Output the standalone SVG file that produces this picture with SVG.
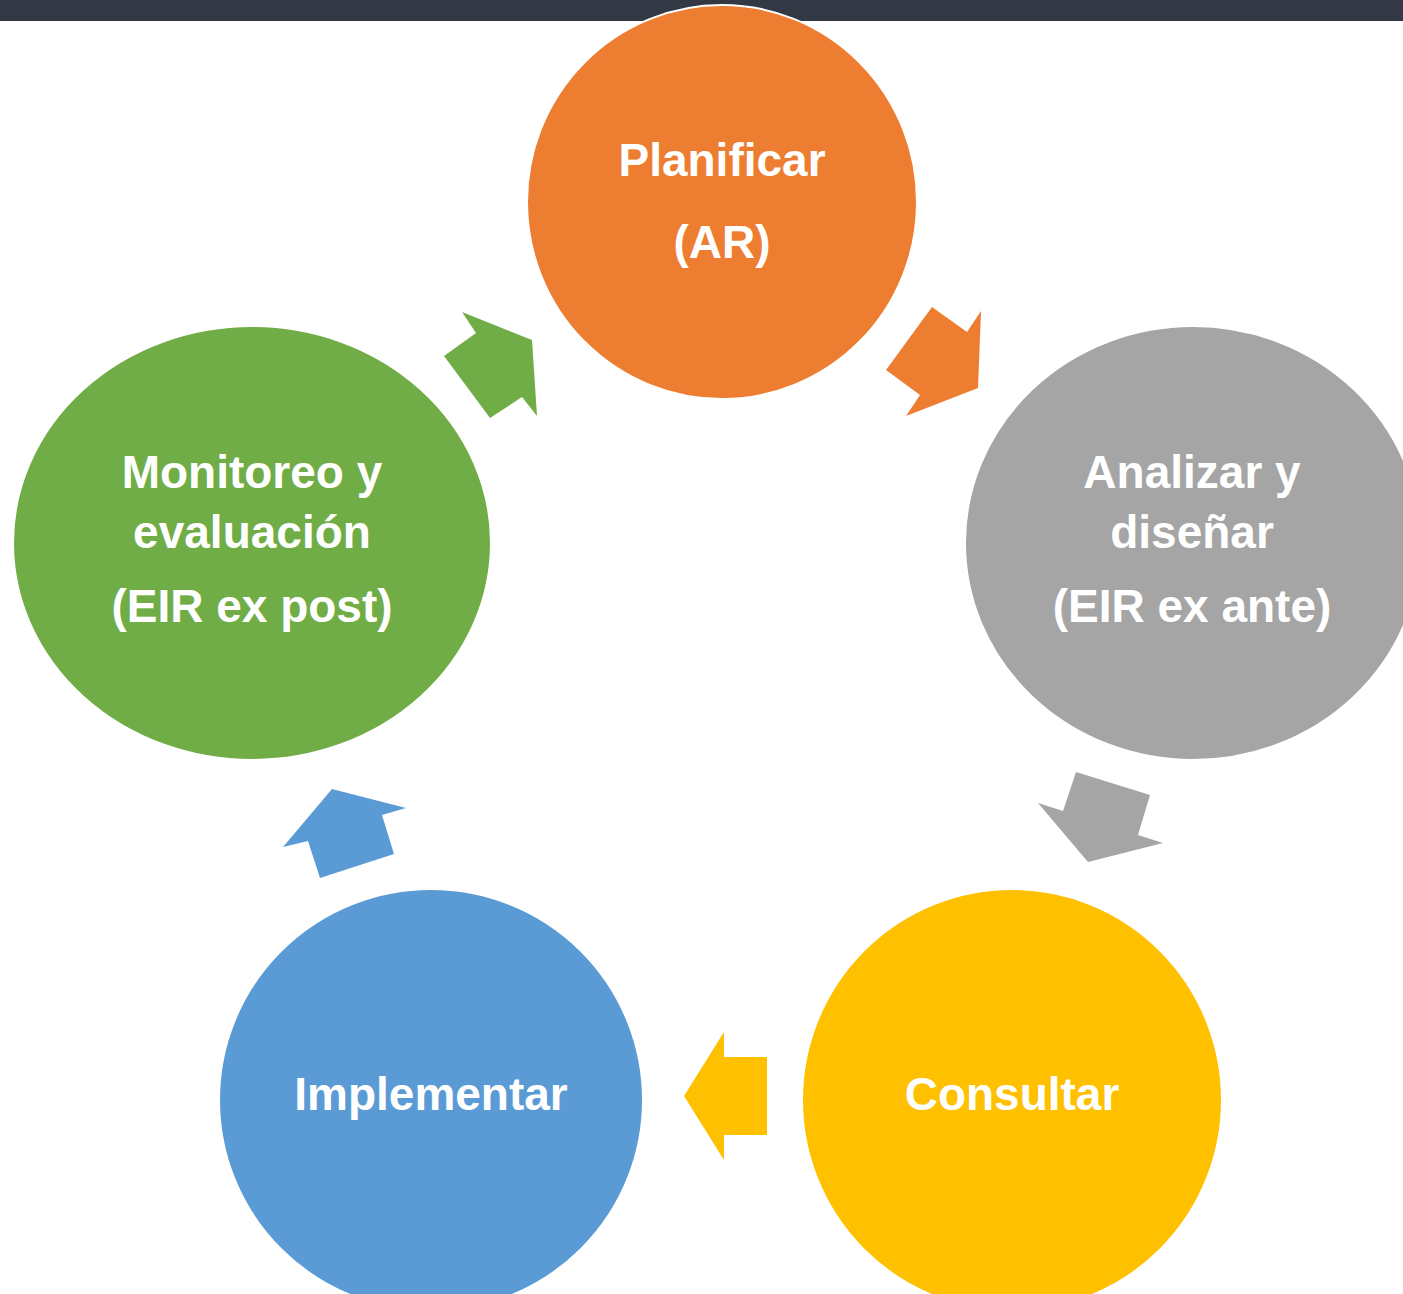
<svg xmlns="http://www.w3.org/2000/svg" width="1403" height="1294" viewBox="0 0 1403 1294">
<style>
.lbl{font-family:"Liberation Sans",Arial,sans-serif;font-weight:bold;font-size:46px;fill:#ffffff;text-anchor:middle}
.node{stroke:#ffffff;stroke-width:2}
</style>
<rect x="0" y="0" width="1403" height="1294" fill="#ffffff"/>
<rect id="topbar" x="0" y="0" width="1403" height="21" fill="#323844"/>
<g id="connectors">
<polygon points="932,307 967,332 981,311 978,388 906,416 920,395 886,370" fill="#ED7D31"/>
<polygon points="1076,772 1150,795 1138,835 1163,843 1088,862 1038,803 1063,811" fill="#A5A5A5"/>
<polygon points="724,1032 724,1057 767,1057 767,1135 724,1135 724,1160 684,1096" fill="#FFC000"/>
<polygon points="332,789 406,808 382,815 394,854 320,878 308,841 283,847" fill="#5B9BD5"/>
<polygon points="462,312 532,340 537,416 522,397 490,418 444,356 476,333" fill="#70AD47"/>
</g>
<g id="planificar">
<ellipse class="node" cx="722" cy="202" rx="195" ry="197" fill="#ED7D31"/>
<text class="lbl" x="722" y="176">Planificar</text>
<text class="lbl" x="722" y="258">(AR)</text>
</g>
<g id="analizar">
<ellipse class="node" cx="1193" cy="543" rx="228" ry="217" fill="#A5A5A5"/>
<text class="lbl" x="1192" y="488">Analizar y</text>
<text class="lbl" x="1192" y="548">diseñar</text>
<text class="lbl" x="1192" y="622">(EIR ex ante)</text>
</g>
<g id="consultar">
<ellipse class="node" cx="1012" cy="1100" rx="210" ry="211" fill="#FFC000"/>
<text class="lbl" x="1012" y="1110">Consultar</text>
</g>
<g id="implementar">
<ellipse class="node" cx="431" cy="1100" rx="212" ry="211" fill="#5B9BD5"/>
<text class="lbl" x="431" y="1110">Implementar</text>
</g>
<g id="monitoreo">
<ellipse class="node" cx="252" cy="543" rx="239" ry="217" fill="#70AD47"/>
<text class="lbl" x="252" y="488">Monitoreo y</text>
<text class="lbl" x="252" y="548">evaluación</text>
<text class="lbl" x="252" y="622">(EIR ex post)</text>
</g>
</svg>
